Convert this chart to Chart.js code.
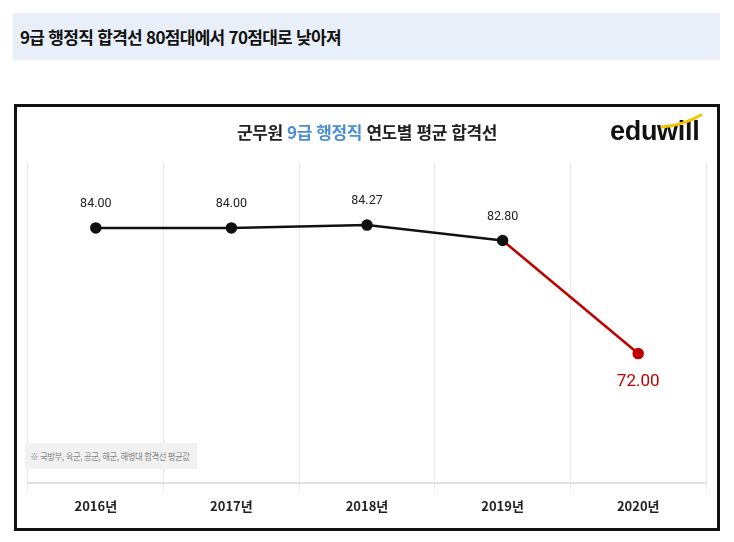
<!DOCTYPE html>
<html lang="ko">
<head>
<meta charset="utf-8">
<script src="https://cdn.jsdelivr.net/npm/chart.js@4"></script>
<style>
    body { margin: 0; width: 734px; height: 542px; background: #fff; font-family: 'Noto Sans CJK KR', sans-serif; position: relative; overflow: hidden; }
    .headline { position: absolute; left: 13px; top: 13px; width: 707px; height: 47px; background: #e9eff8; }
    .headline span { position: absolute; left: 7px; top: 11px; font-size: 17px; font-weight: 700; color: #111; letter-spacing: -0.7px; }
    .box { position: absolute; left: 14px; top: 104px; width: 700px; height: 421px; border: 3px solid #111; background: #fff; }
    .chart-title { position: absolute; left: 0; right: 0; top: 12px; text-align: center; font-size: 17px; font-weight: 700; color: #222; letter-spacing: -0.4px; }
    .chart-title .blue { color: #4a8fd6; }
    .logo { position: absolute; left: 593px; top: 9px; font-family: 'Liberation Sans', Arial, sans-serif; font-size: 27px; font-weight: 700; color: #111; letter-spacing: -0.3px; }
    .logo svg { position: absolute; left: 50px; top: -3px; }
    .note { position: absolute; left: 8px; top: 336px; width: 172px; height: 26px; background: #f1f1f1; font-size: 9.5px; color: #888; line-height: 26px; white-space: nowrap; overflow: hidden; }
    .note span { display: inline-block; padding-left: 6px; transform: scaleX(0.88); transform-origin: left center; letter-spacing: -0.5px; }
    #wrap { position: absolute; left: 0; top: 0; width: 700px; height: 421px; }
</style>
</head>
<body>
<div class="headline"><span>9급 행정직 합격선 80점대에서 70점대로 낮아져</span></div>
<div class="box">
    <div id="wrap"><canvas id="passChart"></canvas></div>
    <div class="chart-title">군무원 <span class="blue">9급 행정직</span> 연도별 평균 합격선</div>
    <div class="logo">eduwill<svg width="44" height="16" viewBox="0 0 44 16"><path d="M2 14 Q 24 12 41 2" stroke="#f5c400" stroke-width="3" fill="none" stroke-linecap="round"/></svg></div>
    <div class="note"><span>※ 국방부, 육군, 공군, 해군, 해병대 합격선 평균값</span></div>
</div>
<script>
// Chart data
const years = ['2016년', '2017년', '2018년', '2019년', '2020년'];
const passScores = [84.00, 84.00, 84.27, 82.80, 72.00];
const pointColors = ['#111111', '#111111', '#111111', '#111111', '#c00000'];

// value labels above / below the points
const valueLabels = {
    id: 'valueLabels',
    afterDatasetsDraw(chart) {
        const ctx = chart.ctx;
        const meta = chart.getDatasetMeta(0);
        ctx.save();
        ctx.textAlign = 'center';
        ctx.textBaseline = 'middle';
        meta.data.forEach((pt, i) => {
            const last = i === passScores.length - 1;
            ctx.fillStyle = last ? '#c00000' : '#222';
            ctx.font = last ? "17px 'Roboto', sans-serif" : "12.5px 'Roboto', sans-serif";
            ctx.fillText(passScores[i].toFixed(2), pt.x, last ? pt.y + 28 : pt.y - 24);
        });
        ctx.restore();
    }
};

const ctx = document.getElementById('passChart').getContext('2d');
new Chart(ctx, {
    type: 'line',
    data: {
        labels: years,
        datasets: [{
            data: passScores,
            borderWidth: 2.5,
            borderColor: '#111',
            segment: {
                borderColor: c => pointColors[c.p1DataIndex] === '#c00000' ? '#c00000' : '#111'
            },
            pointBackgroundColor: pointColors,
            pointBorderColor: pointColors,
            pointRadius: 4.5,
            tension: 0
        }]
    },
    options: {
        responsive: true,
        maintainAspectRatio: false,
        animation: false,
        layout: { padding: { left: 11, right: 11, top: 56, bottom: 6 } },
        plugins: { legend: { display: false }, tooltip: { enabled: false } },
        scales: {
            x: {
                offset: true,
                grid: { offset: true, color: '#e8e8e8', tickLength: 7 },
                border: { color: '#e2e2e2', width: 2 },
                ticks: {
                    color: '#222',
                    padding: 8,
                    font: { family: "'Noto Sans CJK KR', sans-serif", size: 13, weight: 'bold' }
                }
            },
            y: { display: false, min: 59.6, max: 90.2 }
        }
    },
    plugins: [valueLabels]
});
</script>
</body>
</html>
